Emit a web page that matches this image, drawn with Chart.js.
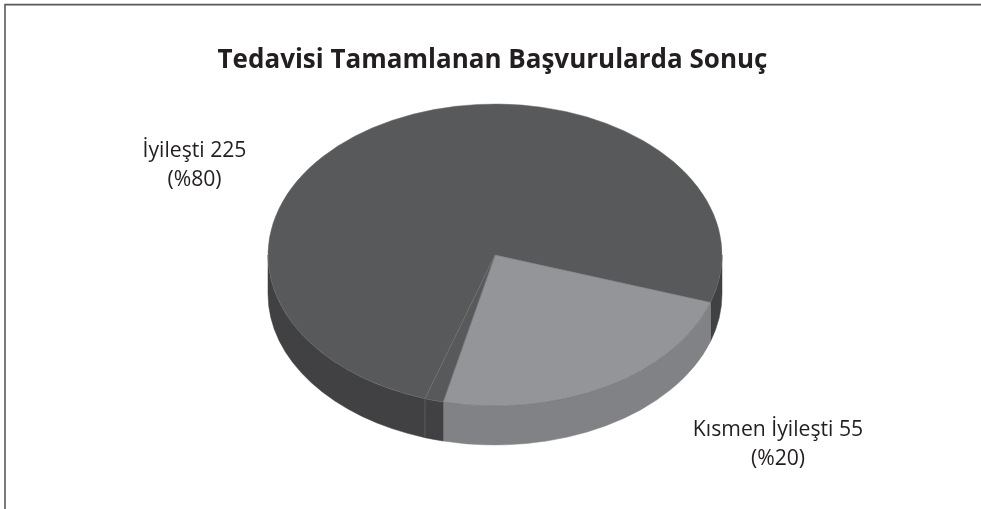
<!DOCTYPE html>
<html lang="tr">
<head>
<meta charset="utf-8">
<title>Tedavisi Tamamlanan Başvurularda Sonuç</title>
<style>
    html, body { margin: 0; padding: 0; background: #fff; }
    canvas { display: block; }
</style>
<script src="https://cdn.jsdelivr.net/npm/chart.js@4/dist/chart.umd.js"></script>
</head>
<body>
<canvas id="myChart" width="981" height="509"></canvas>
<script>
var chartTitle = "Tedavisi Tamamlanan Başvurularda Sonuç";
// the third slice has no label in the picture, its value is an estimate
var categories = ["İyileşti", "Kısmen İyileşti", ""];
var values = [225, 55, 3];
var percents = [80, 20, null];

var topColors = ['#58595b', '#939598', '#58595b'];
var wallColors = ['#414042', '#808285', '#414042'];
var labelAnchors = [{x: 194.5, y: 157}, {x: 778, y: 436}, null];

var tilt = 151 / 227;      // height/width of the pie's ellipse
var wallDepth = 39;
var perspective = 0.25;    // near slices look wider, far ones narrower

var pie3d = {
    id: 'pie3d',
    afterLayout: function (chart) {
        // the title sits a little left of the pie's centre
        chart.titleBlock.left -= 2.5;
        chart.titleBlock.right -= 2.5;
    },
    afterDatasetUpdate: function (chart) {
        chart.getDatasetMeta(0).data.forEach(function (arc) {
            arc.startAngle = arc.startAngle - perspective * Math.cos(arc.startAngle);
            arc.endAngle = arc.endAngle - perspective * Math.cos(arc.endAngle);
            arc.circumference = arc.endAngle - arc.startAngle;
        });
    },
    beforeDraw: function (chart) {
        // frame, open on the right and at the bottom
        var ctx = chart.ctx;
        ctx.save();
        ctx.strokeStyle = '#58595b';
        ctx.lineWidth = 1.6;
        ctx.beginPath();
        ctx.moveTo(5, 509);
        ctx.lineTo(5, 4.6);
        ctx.lineTo(981, 4.6);
        ctx.stroke();
        ctx.restore();
    },
    beforeDatasetsDraw: function (chart) {
        var ctx = chart.ctx;
        chart.getDatasetMeta(0).data.forEach(function (arc, i) {
            // only the front half of the side wall can be seen
            [[0, Math.PI], [2 * Math.PI, 3 * Math.PI]].forEach(function (front) {
                var a = Math.max(arc.startAngle, front[0]);
                var b = Math.min(arc.endAngle, front[1]);
                if (a >= b) return;
                var ry = arc.outerRadius * tilt;
                ctx.save();
                ctx.fillStyle = wallColors[i];
                ctx.strokeStyle = wallColors[i];
                ctx.lineWidth = 0.5;
                ctx.beginPath();
                ctx.ellipse(arc.x, arc.y, arc.outerRadius, ry, 0, a, b);
                ctx.ellipse(arc.x, arc.y + wallDepth, arc.outerRadius, ry, 0, b, a, true);
                ctx.closePath();
                ctx.fill();
                ctx.stroke();
                ctx.restore();
            });
        });
        // seam on the wall between the thin slice and the big one
        var seam = chart.getDatasetMeta(0).data[2];
        var x = seam.x + seam.outerRadius * Math.cos(seam.endAngle);
        var y = seam.y + seam.outerRadius * tilt * Math.sin(seam.endAngle);
        ctx.save();
        ctx.strokeStyle = '#6d6e71';
        ctx.lineWidth = 0.6;
        ctx.beginPath();
        ctx.moveTo(x, y);
        ctx.lineTo(x, y + wallDepth);
        ctx.stroke();
        ctx.restore();

        // the library's arcs are drawn flattened
        var c = chart.getDatasetMeta(0).data[0];
        ctx.save();
        ctx.translate(c.x, c.y);
        ctx.scale(1, tilt);
        ctx.translate(-c.x, -c.y);
    },
    afterDatasetsDraw: function (chart) {
        var ctx = chart.ctx;
        ctx.restore();

        ctx.save();
        ctx.font = '21.2px "Open Sans"';
        ctx.fillStyle = '#231f20';
        ctx.textAlign = 'center';
        ctx.textBaseline = 'alphabetic';
        categories.forEach(function (name, i) {
            if (!labelAnchors[i]) return;
            ctx.fillText(name + ' ' + values[i], labelAnchors[i].x, labelAnchors[i].y);
            ctx.fillText('(%' + percents[i] + ')', labelAnchors[i].x, labelAnchors[i].y + 29);
        });
        ctx.restore();
    }
};

function javascriptGrafico() {
    var ctx = document.getElementById('myChart').getContext('2d');
    var chart = new Chart(ctx, {
        type: 'pie',
        plugins: [pie3d],
        data: {
            labels: categories,
            datasets: [{
                data: values,
                backgroundColor: topColors,
                borderColor: '#6d6e71',
                borderWidth: 0.6
            }]
        },
        options: {
            responsive: false,
            animation: false,
            radius: 227,
            rotation: 194.4,
            layout: { padding: { left: 9, bottom: 82.2 } },
            plugins: {
                legend: { display: false },
                tooltip: { enabled: false },
                title: {
                    display: true,
                    text: chartTitle,
                    color: '#231f20',
                    font: { family: '"Open Sans"', size: 26, weight: 'bold' },
                    padding: { top: 45, bottom: 7 }
                }
            }
        }
    });
}
javascriptGrafico();
</script>
</body>
</html>
